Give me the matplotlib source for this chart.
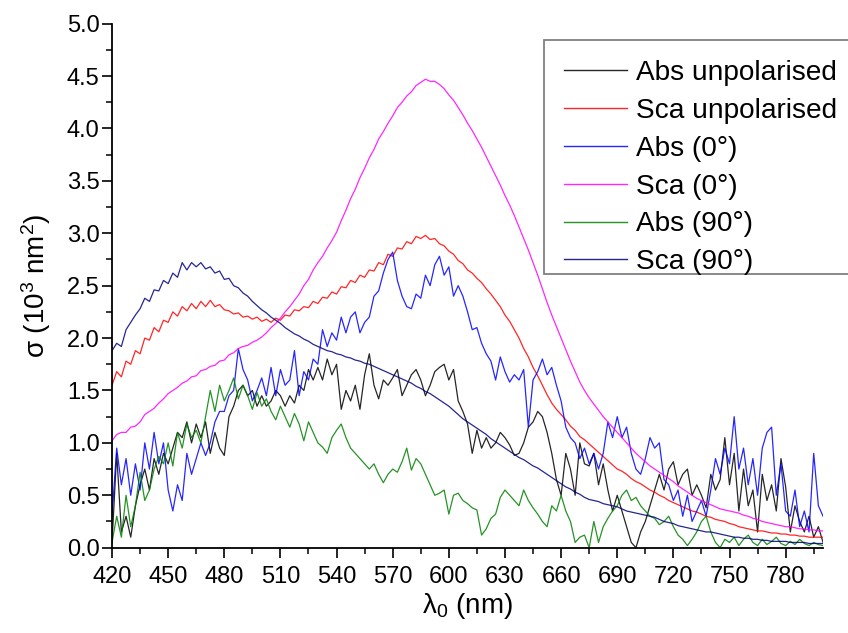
import numpy as np
import matplotlib
matplotlib.use("Agg")
import matplotlib.pyplot as plt
from matplotlib.patches import Rectangle
from matplotlib.ticker import MultipleLocator, FormatStrFormatter

plt.rcParams['font.family'] = ['Liberation Sans', 'DejaVu Sans']
plt.rcParams['mathtext.default'] = 'regular'

# Wavelength grid (nm), 2.5 nm sampling
wavelength = np.arange(420, 800.01, 2.5)

abs_unpol = [
    0.05, 0.9, 0.15, 0.3, 0.1, 0.4, 0.6, 0.75, 0.55, 0.85,
    0.7, 0.9, 0.8, 0.95, 1.1, 1.05, 1.2, 1.0, 1.18, 1.05,
    1.2, 0.9, 1.1, 0.95, 0.88, 1.25, 1.35, 1.5, 1.55, 1.45,
    1.5, 1.35, 1.45, 1.35, 1.4, 1.5, 1.45, 1.35, 1.45, 1.38,
    1.55, 1.5, 1.7, 1.6, 1.72, 1.6, 1.8, 1.65, 1.75, 1.32,
    1.5, 1.4, 1.55, 1.32, 1.65, 1.85, 1.55, 1.42, 1.6, 1.55,
    1.62, 1.7, 1.45, 1.55, 1.65, 1.7, 1.6, 1.45, 1.55, 1.68,
    1.72, 1.75, 1.6, 1.7, 1.4, 1.3, 1.18, 0.9, 1.12, 0.95,
    1.05, 0.95, 1.0, 1.1, 1.05, 0.98, 0.88, 0.9, 1.0, 1.15,
    1.2, 1.3, 1.25, 1.1, 0.9, 0.65, 0.5, 0.9, 0.75, 0.5,
    1.0, 0.8, 0.78, 0.9, 0.6, 0.8, 0.55, 0.35, 0.5, 0.35,
    0.2, 0.05, 0.0, 0.15, 0.25, 0.4, 0.55, 0.7, 0.55, 0.75,
    0.82, 0.6, 0.7, 0.75, 0.5, 0.6, 0.5, 0.38, 0.7, 0.55,
    0.65, 1.05, 0.6, 0.9, 0.35, 0.75, 0.4, 0.55, 0.15, 0.7,
    0.45, 0.6, 0.35, 0.85, 0.58, 0.15, 0.4, 0.25, 0.15, 0.3,
    0.1, 0.2, 0.05,
]

sca_unpol = [
    1.55, 1.68, 1.63, 1.78, 1.75, 1.88, 1.85, 2.0, 1.98, 2.1,
    2.06, 2.17, 2.15, 2.25, 2.21, 2.3, 2.26, 2.33, 2.28, 2.35,
    2.3, 2.36, 2.3, 2.32, 2.27, 2.26, 2.23, 2.24, 2.2, 2.21,
    2.18, 2.2, 2.16, 2.18, 2.15, 2.19, 2.17, 2.22, 2.21, 2.27,
    2.26, 2.3, 2.29, 2.35, 2.33, 2.39, 2.38, 2.44, 2.42, 2.49,
    2.48, 2.55, 2.53, 2.6, 2.58, 2.65, 2.64, 2.72, 2.7, 2.8,
    2.78, 2.86, 2.85, 2.92, 2.9, 2.97, 2.95, 2.98, 2.94, 2.95,
    2.9, 2.88, 2.83, 2.8, 2.74, 2.71, 2.65, 2.62, 2.57, 2.53,
    2.47, 2.42, 2.36, 2.3, 2.22, 2.16, 2.08, 2.0, 1.9, 1.82,
    1.72, 1.64, 1.55, 1.46, 1.38, 1.32, 1.27, 1.22, 1.16, 1.12,
    1.06, 1.03, 0.99, 0.95, 0.91, 0.87, 0.83, 0.79, 0.75, 0.73,
    0.7, 0.66, 0.63, 0.61, 0.58, 0.55, 0.53, 0.5, 0.48, 0.45,
    0.43, 0.41, 0.39, 0.37, 0.35, 0.34, 0.32, 0.3, 0.29, 0.27,
    0.26, 0.25, 0.23, 0.22, 0.2, 0.19, 0.18, 0.17, 0.16, 0.16,
    0.15, 0.14, 0.14, 0.13, 0.13, 0.12, 0.12, 0.11, 0.11, 0.1,
    0.1, 0.1, 0.1,
]

abs_0 = [
    0.3, 0.95, 0.6, 0.85, 0.5, 0.8, 0.55, 1.0, 0.75, 1.1,
    0.8, 1.0, 0.55, 0.35, 0.6, 0.45, 0.9, 0.7, 0.85, 1.0,
    0.88, 1.0, 1.2, 1.3, 1.3, 1.45, 1.5, 1.9, 1.7, 1.6,
    1.4, 1.5, 1.62, 1.45, 1.72, 1.45, 1.7, 1.55, 1.6, 1.88,
    1.45, 1.68, 1.6, 1.8, 1.75, 2.08, 1.92, 2.05, 1.98, 2.2,
    2.05, 2.2, 2.25, 2.05, 2.15, 2.2, 2.4, 2.45, 2.62, 2.75,
    2.82, 2.55, 2.4, 2.3, 2.28, 2.42, 2.38, 2.6, 2.5, 2.7,
    2.78, 2.6, 2.68, 2.4, 2.5, 2.4, 2.25, 2.08, 2.1, 1.95,
    1.85, 1.78, 1.6, 1.82, 1.68, 1.58, 1.65, 1.6, 1.7, 1.15,
    1.6, 1.68, 1.8, 1.65, 1.72, 1.55, 1.4, 1.15, 1.05, 1.0,
    0.85, 0.95, 0.8, 0.9, 0.75, 0.9, 1.2, 1.05, 1.25, 1.05,
    1.15, 0.9, 0.75, 0.7, 0.85, 1.05, 0.95, 1.0, 0.65, 0.6,
    0.45, 0.55, 0.3, 0.5, 0.25, 0.35, 0.45, 0.3, 0.55, 0.85,
    0.7, 0.95, 0.8, 1.25, 0.75, 0.95, 0.6, 0.85, 0.5, 0.95,
    1.1, 1.15, 0.5, 0.8, 0.35, 0.3, 0.55, 0.2, 0.35, 0.15,
    0.9, 0.4, 0.3,
]

sca_0 = [
    1.02, 1.08, 1.1, 1.1, 1.15, 1.16, 1.2, 1.27, 1.3, 1.33,
    1.38, 1.42, 1.47, 1.5, 1.53, 1.57, 1.59, 1.63, 1.64, 1.69,
    1.7, 1.73, 1.74, 1.78, 1.79, 1.84, 1.86, 1.9, 1.92, 1.93,
    1.96, 1.98, 2.01, 2.05, 2.1, 2.14, 2.19, 2.25, 2.3, 2.36,
    2.42, 2.5, 2.56, 2.65, 2.72, 2.78, 2.86, 2.93, 3.01, 3.12,
    3.22, 3.33, 3.42, 3.53, 3.62, 3.72, 3.8, 3.9, 3.97, 4.05,
    4.12, 4.2, 4.25, 4.31, 4.35, 4.41, 4.44, 4.47, 4.45, 4.45,
    4.42, 4.38, 4.32, 4.27, 4.2, 4.13, 4.05, 3.98, 3.9, 3.82,
    3.73, 3.64, 3.55, 3.46, 3.36, 3.27, 3.17, 3.06, 2.95, 2.84,
    2.72, 2.6, 2.47, 2.34, 2.22, 2.11, 2.0, 1.89, 1.78, 1.68,
    1.58, 1.5, 1.43, 1.37, 1.31, 1.25, 1.2, 1.15, 1.1, 1.05,
    1.0, 0.95, 0.9, 0.86, 0.82, 0.78, 0.75, 0.72, 0.69, 0.66,
    0.63, 0.59, 0.56, 0.53, 0.5, 0.47, 0.45, 0.43, 0.41, 0.39,
    0.37, 0.36, 0.35, 0.34, 0.33, 0.31, 0.3, 0.28, 0.27, 0.25,
    0.24, 0.23, 0.22, 0.21, 0.2, 0.2, 0.19, 0.18, 0.18, 0.17,
    0.17, 0.16, 0.16,
]

abs_90 = [
    0.05, 0.3, 0.1, 0.5, 0.2, 0.4, 0.72, 0.45, 0.55, 0.75,
    0.87, 0.8, 1.0, 0.78, 1.1, 0.95, 1.18, 1.05, 1.12, 1.0,
    1.25, 1.5, 1.3, 1.55, 1.4, 1.5, 1.62, 1.42, 1.55, 1.45,
    1.32, 1.48, 1.35, 1.42, 1.3, 1.22, 1.35, 1.25, 1.15, 1.28,
    1.18, 1.02, 1.2, 1.1, 1.0, 0.96, 0.9, 1.05, 1.12, 1.18,
    1.05, 0.95, 0.9, 0.85, 0.8, 0.75, 0.8, 0.7, 0.62, 0.7,
    0.75, 0.72, 0.82, 0.95, 0.74, 0.85, 0.8, 0.7, 0.6, 0.5,
    0.52, 0.55, 0.32, 0.5, 0.52, 0.45, 0.42, 0.38, 0.36, 0.12,
    0.18, 0.28, 0.32, 0.48, 0.55, 0.5, 0.45, 0.4, 0.55, 0.45,
    0.38, 0.32, 0.25, 0.2, 0.4, 0.35, 0.5, 0.35, 0.25, 0.05,
    0.1, 0.12, 0.0, 0.25, 0.05, 0.2, 0.28, 0.35, 0.4, 0.5,
    0.55, 0.45, 0.48, 0.4, 0.35, 0.3, 0.28, 0.22, 0.25, 0.3,
    0.2, 0.12, 0.08, 0.02, 0.08, 0.15, 0.25, 0.3, 0.15, 0.05,
    0.0, 0.08, 0.05, 0.1, 0.02, 0.08, 0.12, 0.05, 0.02, 0.08,
    0.03, 0.06, 0.1, 0.04, 0.02, 0.06, 0.03, 0.08, 0.04, 0.02,
    0.05, 0.03, 0.02,
]

sca_90 = [
    1.88, 1.95, 1.92, 2.08, 2.15, 2.22, 2.28, 2.38, 2.35, 2.46,
    2.45, 2.55, 2.52, 2.62, 2.58, 2.72, 2.65, 2.72, 2.68, 2.72,
    2.66, 2.68, 2.62, 2.64, 2.56, 2.57, 2.5, 2.48, 2.43, 2.4,
    2.35, 2.31, 2.27, 2.24, 2.2, 2.17, 2.14, 2.1, 2.07, 2.04,
    2.02, 1.99, 1.97, 1.94, 1.92, 1.9, 1.88, 1.87, 1.85, 1.84,
    1.82, 1.81, 1.79, 1.78, 1.76, 1.75, 1.73, 1.71, 1.69, 1.67,
    1.65, 1.63, 1.61, 1.59, 1.57, 1.54, 1.52, 1.49, 1.47, 1.44,
    1.41, 1.38, 1.35, 1.31, 1.27, 1.23, 1.2, 1.17, 1.14, 1.11,
    1.08, 1.04, 1.01, 0.98, 0.95, 0.92, 0.89, 0.86, 0.84, 0.81,
    0.78, 0.76, 0.73, 0.7, 0.67, 0.64, 0.61, 0.58, 0.56, 0.53,
    0.51, 0.48, 0.46, 0.45, 0.44, 0.42, 0.41, 0.4, 0.39, 0.37,
    0.35, 0.34, 0.33, 0.32, 0.31, 0.3, 0.29, 0.27, 0.25, 0.24,
    0.23, 0.21, 0.2, 0.19, 0.18, 0.17, 0.16, 0.15, 0.15, 0.14,
    0.13, 0.12, 0.11, 0.1, 0.1, 0.09, 0.09, 0.08, 0.08, 0.07,
    0.07, 0.06, 0.06, 0.06, 0.06, 0.05, 0.05, 0.05, 0.05, 0.04,
    0.04, 0.04, 0.04,
]

series = [
    ("Abs unpolarised", abs_unpol, "#000000"),
    ("Sca unpolarised", sca_unpol, "#ff0000"),
    ("Abs (0°)", abs_0, "#0000ff"),
    ("Sca (0°)", sca_0, "#ff00ff"),
    ("Abs (90°)", abs_90, "#008000"),
    ("Sca (90°)", sca_90, "#000080"),
]

W, H = 848, 633
fig = plt.figure(figsize=(W / 100, H / 100), dpi=100)
ax = fig.add_axes([0.1321, 0.1348, 0.8385, 0.8278])

for label, values, color in series:
    ax.plot(wavelength, values, color=color, lw=0.9, alpha=0.85, label=label)

ax.set_xlim(420, 800)
ax.set_ylim(0, 5)
ax.xaxis.set_major_locator(MultipleLocator(30))
ax.xaxis.set_minor_locator(MultipleLocator(15))
ax.yaxis.set_major_locator(MultipleLocator(0.5))
ax.yaxis.set_minor_locator(MultipleLocator(0.25))
ax.yaxis.set_major_formatter(FormatStrFormatter('%.1f'))

for side in ("top", "right"):
    ax.spines[side].set_visible(False)
for side in ("left", "bottom"):
    ax.spines[side].set_linewidth(1.3)

ax.tick_params(which="major", direction="out", length=7, width=1.2,
               labelsize=17, pad=2)
ax.tick_params(which="minor", direction="out", length=4.5, width=1.1)
ax.tick_params(axis="x", which="major", pad=6)

ax.set_xlabel("λ$_0$ (nm)", fontsize=20, labelpad=2)
ax.set_ylabel("σ (10$^3$ nm$^2$)", fontsize=20, labelpad=10)

# Legend frame: square grey box running off the right edge of the figure
box_left, box_top, box_bottom = 544, 40, 274
frame = Rectangle((box_left / W, 1 - box_bottom / H), (W + 10 - box_left) / W,
                  (box_bottom - box_top) / H, transform=fig.transFigure,
                  facecolor="white", edgecolor="#808080", linewidth=1.3,
                  clip_on=False, zorder=4)
ax.add_patch(frame)

leg = ax.legend(loc="upper left", bbox_to_anchor=(box_left / W, 1 - box_top / H),
                bbox_transform=fig.transFigure, borderaxespad=0,
                fontsize=20.2, frameon=False,
                handlelength=2.25, handletextpad=0.32, labelspacing=0.42,
                borderpad=0.72)
leg.set_zorder(5)
for line in leg.get_lines():
    line.set_linewidth(1.0)

fig.savefig("out.png", dpi=100)
